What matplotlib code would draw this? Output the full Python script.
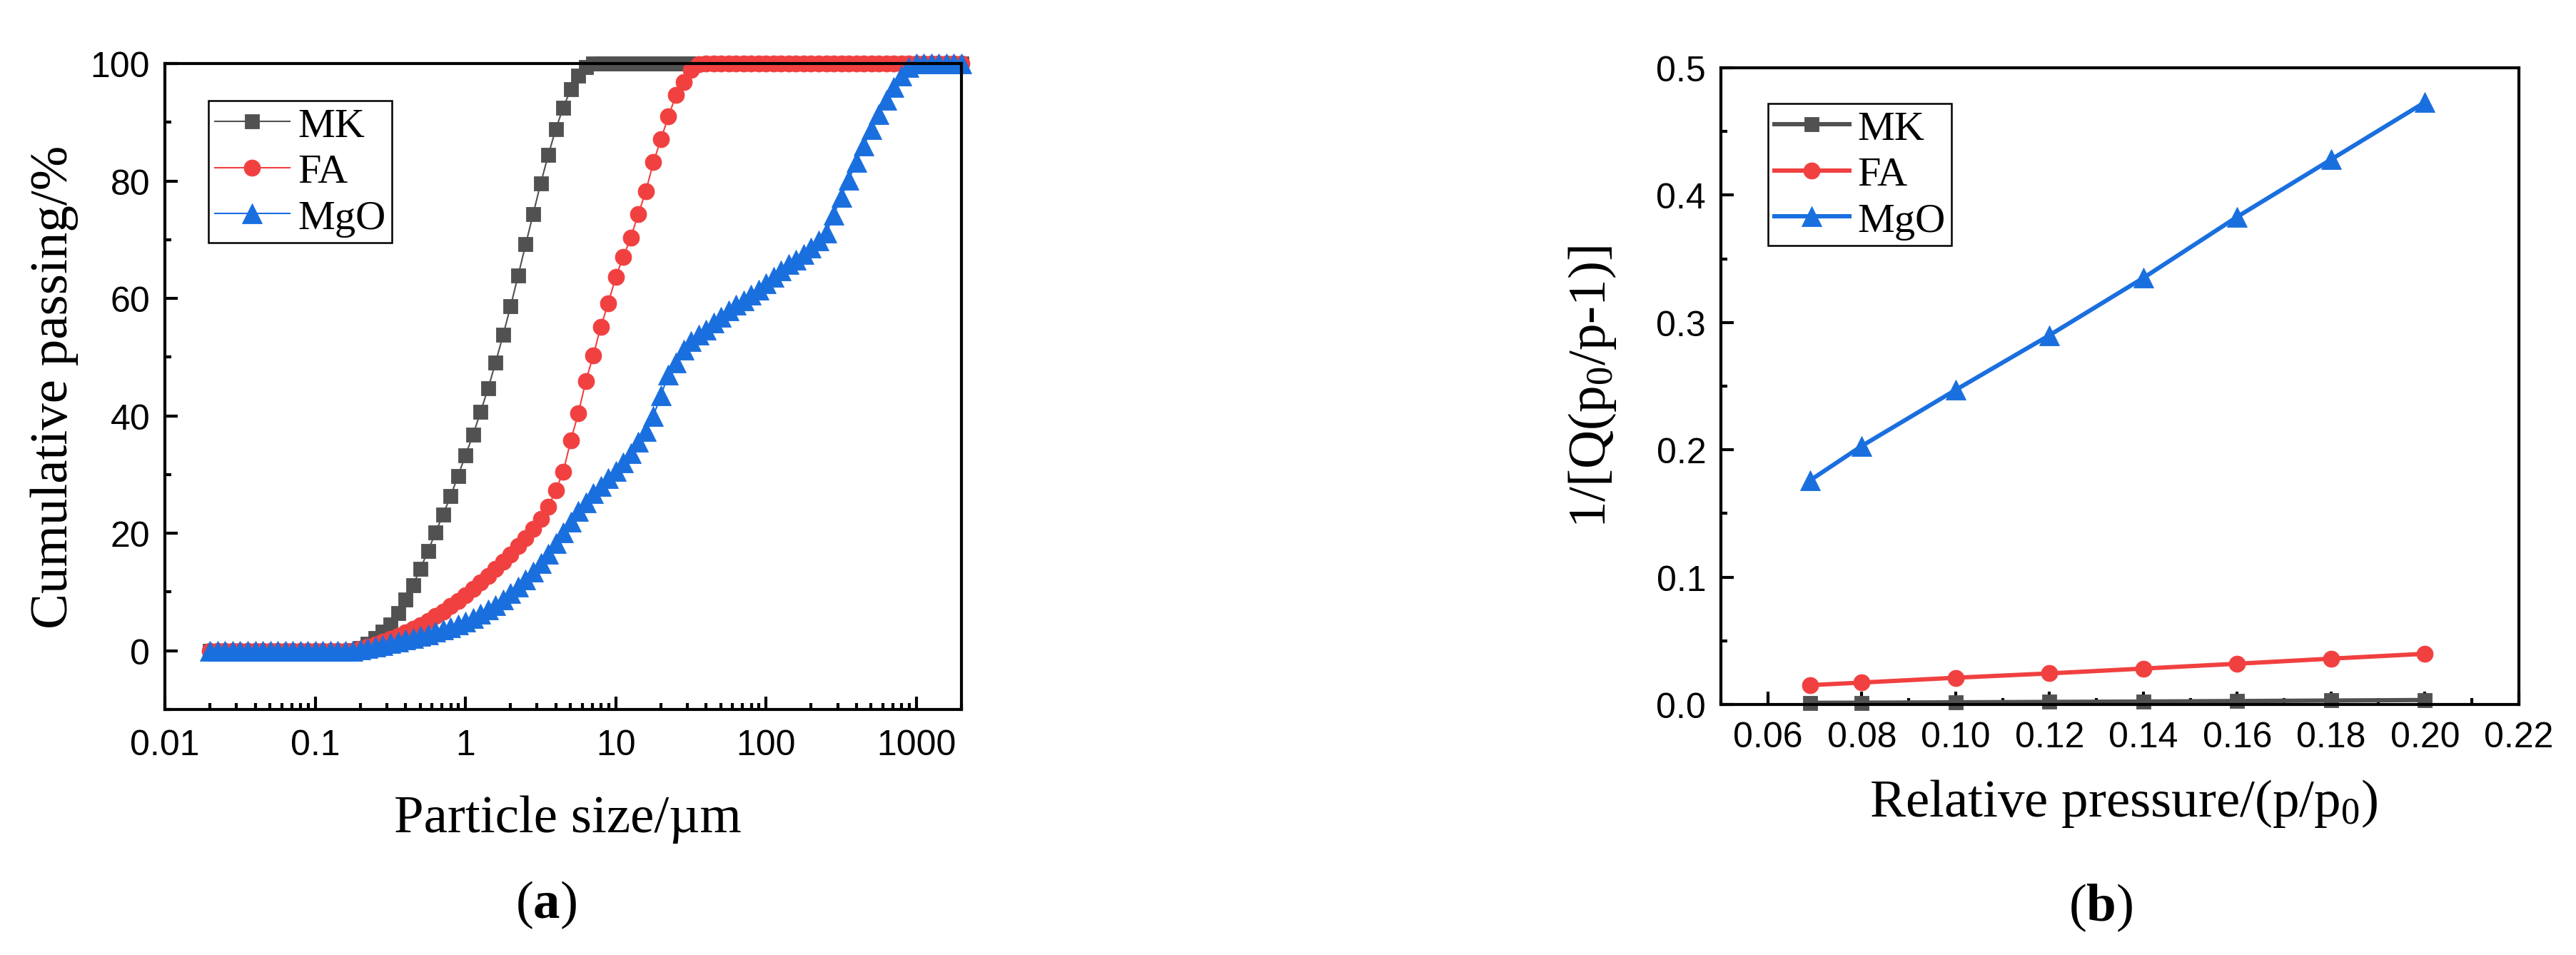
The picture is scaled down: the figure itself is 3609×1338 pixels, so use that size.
import matplotlib
matplotlib.use('Agg')
import matplotlib.pyplot as plt
from matplotlib.ticker import MultipleLocator, FormatStrFormatter, LogLocator, NullFormatter

# ---- data (a): particle size distribution, cumulative passing -------------
size_um = [
    0.02000, 0.02244, 0.02518, 0.02825, 0.03170, 0.03557, 0.03991, 0.04477, 0.05024, 0.05637,
    0.06325, 0.07096, 0.07962, 0.08934, 0.1002, 0.1125, 0.1262, 0.1416, 0.1589, 0.1783,
    0.2000, 0.2244, 0.2518, 0.2825, 0.3170, 0.3557, 0.3991, 0.4477, 0.5024, 0.5637,
    0.6325, 0.7096, 0.7962, 0.8934, 1.002, 1.125, 1.262, 1.416, 1.589, 1.783,
    2.000, 2.244, 2.518, 2.825, 3.170, 3.557, 3.991, 4.477, 5.024, 5.637,
    6.325, 7.096, 7.962, 8.934, 10.02, 11.25, 12.62, 14.16, 15.89, 17.83,
    20.00, 22.44, 25.18, 28.25, 31.70, 35.57, 39.91, 44.77, 50.24, 56.37,
    63.25, 70.96, 79.62, 89.34, 100.2, 112.5, 126.2, 141.6, 158.9, 178.3,
    200.0, 224.4, 251.8, 282.5, 317.0, 355.7, 399.1, 447.7, 502.4, 563.7,
    632.5, 709.6, 796.2, 893.4, 1002, 1125, 1262, 1416, 1589, 1783,
    2000,
]

passing_mk = [0.0] * 19 + [
    0.1,
    0.5, 1.2, 2.1, 3.2, 4.5, 6.4, 8.7, 11.2, 14.0, 17.0,
    20.1, 23.2, 26.3, 29.8, 33.3, 36.8, 40.7, 44.7, 49.1, 53.8,
    58.7, 63.9, 69.2, 74.4, 79.6, 84.4, 88.8, 92.5, 95.6, 97.9,
    99.4,
] + [100.0] * 50

passing_fa = [0.0] * 20 + [
    0.3, 0.7, 1.1, 1.5, 2.0, 2.5, 3.1, 3.7, 4.4, 5.1,
    5.9, 6.7, 7.6, 8.5, 9.5, 10.5, 11.6, 12.7, 13.9, 15.1,
    16.4, 17.8, 19.2, 20.7, 22.4, 24.5, 27.3, 30.5, 35.8, 40.4,
    45.9, 50.3, 55.2, 59.2, 63.7, 67.1, 70.4, 74.4, 78.3, 83.2,
    87.1, 91.0, 94.6, 96.9, 98.9, 99.9,
] + [100.0] * 35

passing_mgo = [0.0] * 20 + [
    0.2, 0.4, 0.7, 1.0, 1.3, 1.6, 1.9, 2.2, 2.5, 2.8,
    3.2, 3.6, 4.0, 4.5, 5.0, 5.6, 6.3, 7.0, 7.8, 8.7,
    9.8, 10.9, 12.1, 13.4, 14.9, 16.5, 18.3, 20.2, 22.0, 23.8,
    25.3, 26.8, 28.1, 29.4, 30.6, 32.0, 33.6, 35.6, 37.4, 40.0,
    43.5, 47.0, 49.1, 51.3, 52.7, 53.8, 54.7, 55.9, 56.9, 58.0,
    58.9, 59.7, 60.6, 61.5, 62.6, 63.7, 64.8, 65.8, 66.6, 67.5,
    68.6, 69.8, 71.2, 74.2, 77.3, 80.2, 83.2, 86.0, 88.8, 91.4,
    93.8, 96.0, 97.9, 99.4, 100.0,
] + [100.0] * 6

size_ticks = [0.01, 0.1, 1, 10, 100, 1000]
size_tick_labels = ['0.01', '0.1', '1', '10', '100', '1000']

# ---- data (b): BET plot ----------------------------------------------------
rel_pressure = [0.069, 0.08, 0.10, 0.12, 0.14, 0.16, 0.18, 0.20]
bet_mk = [0.0013, 0.0014, 0.0017, 0.0020, 0.0023, 0.0027, 0.0031, 0.0035]
bet_fa = [0.0152, 0.0172, 0.0210, 0.0244, 0.0282, 0.0320, 0.0360, 0.0398]
bet_mgo = [0.176, 0.203, 0.247, 0.290, 0.335, 0.383, 0.428, 0.473]

labels = ['MK', 'FA', 'MgO']

# Origin default palette
C_MK = '#515151'
C_FA = '#F14040'
C_MGO = '#1A6FDF'

SANS = 'Liberation Sans'
SERIF = 'Liberation Serif'

plt.rcParams['font.family'] = SANS
plt.rcParams['mathtext.fontset'] = 'custom'
plt.rcParams['mathtext.rm'] = SERIF
plt.rcParams['mathtext.it'] = SERIF + ':italic'
plt.rcParams['mathtext.bf'] = SERIF + ':bold'

W, H = 3609, 1339
fig = plt.figure(figsize=(W / 300, H / 300), dpi=300)

ax1 = fig.add_axes([231 / W, 1 - 995 / H, (1347 - 231) / W, (995 - 90) / H])
ax2 = fig.add_axes([2411 / W, 1 - 988 / H, (3529 - 2411) / W, (988 - 96) / H])


def style_axes(ax, xpad, ypad):
    for sp in ax.spines.values():
        sp.set_linewidth(1.0)
    ax.tick_params(which='both', direction='in', top=False, right=False,
                   width=1.0, labelsize=12)
    ax.tick_params(which='major', length=4.3)
    ax.tick_params(which='minor', length=2.2)
    ax.tick_params(axis='x', pad=xpad)
    ax.tick_params(axis='y', pad=ypad)


def add_legend(ax, x, y):
    leg = ax.legend(loc='upper left', bbox_to_anchor=(x, y), borderaxespad=0,
                    prop={'family': SERIF, 'size': 14}, frameon=True,
                    fancybox=False, edgecolor='black', framealpha=1,
                    handlelength=1.8, handletextpad=0.2, borderpad=0.15,
                    labelspacing=0.2, numpoints=1)
    leg.get_frame().set_linewidth(0.6)


# ---- (a) cumulative passing ------------------------------------------------
lw_a = 0.5
ax1.plot(size_um, passing_mk, color=C_MK, lw=lw_a, marker='s', ms=4.8,
         mew=0.2, mec=C_MK, label=labels[0], clip_on=False)
ax1.plot(size_um, passing_fa, color=C_FA, lw=lw_a, marker='o', ms=5.5,
         mew=0.2, mec=C_FA, label=labels[1], clip_on=False)
ax1.plot(size_um, passing_mgo, color=C_MGO, lw=lw_a, marker='^', ms=6.6,
         mew=0.2, mec=C_MGO, label=labels[2], clip_on=False)

ax1.set_xscale('log')
ax1.set_xlim(0.01, 2000)
ax1.set_ylim(-10, 100)
ax1.set_xticks(size_ticks)
ax1.set_xticklabels(size_tick_labels)
ax1.xaxis.set_minor_locator(LogLocator(base=10, subs=range(2, 10), numticks=20))
ax1.xaxis.set_minor_formatter(NullFormatter())
ax1.yaxis.set_major_locator(MultipleLocator(20))
ax1.yaxis.set_minor_locator(MultipleLocator(10))
style_axes(ax1, xpad=6.5, ypad=5)

ax1.set_xlabel('Particle size/\u00b5m', family=SERIF, fontsize=18)
ax1.set_ylabel('Cumulative passing/%', family=SERIF, fontsize=18)
ax1.xaxis.set_label_coords(0.506, -0.132)
ax1.yaxis.set_label_coords(-0.108, 0.5)
add_legend(ax1, 0.0547, 0.9425)

# ---- (b) BET -----------------------------------------------------------------
lw_b = 1.45
ax2.plot(rel_pressure, bet_mk, color=C_MK, lw=lw_b, marker='s', ms=4.8,
         mew=0.2, mec=C_MK, label=labels[0], clip_on=False)
ax2.plot(rel_pressure, bet_fa, color=C_FA, lw=lw_b, marker='o', ms=5.5,
         mew=0.2, mec=C_FA, label=labels[1], clip_on=False)
ax2.plot(rel_pressure, bet_mgo, color=C_MGO, lw=lw_b, marker='^', ms=6.6,
         mew=0.2, mec=C_MGO, label=labels[2], clip_on=False)

ax2.set_xlim(0.05, 0.22)
ax2.set_ylim(0.0, 0.5)
ax2.xaxis.set_major_locator(MultipleLocator(0.02))
ax2.xaxis.set_minor_locator(MultipleLocator(0.01))
ax2.xaxis.set_major_formatter(FormatStrFormatter('%.2f'))
ax2.yaxis.set_major_locator(MultipleLocator(0.1))
ax2.yaxis.set_minor_locator(MultipleLocator(0.05))
ax2.yaxis.set_major_formatter(FormatStrFormatter('%.1f'))
style_axes(ax2, xpad=5.5, ypad=5)

ax2.set_xlabel(r'Relative pressure/(p/p$_\mathrm{0}$)', family=SERIF, fontsize=18)
ax2.set_ylabel(r'1/[Q(p$_\mathrm{0}$/p-1)]', family=SERIF, fontsize=18)
ax2.xaxis.set_label_coords(0.505, -0.114)
ax2.yaxis.set_label_coords(-0.129, 0.5)
add_legend(ax2, 0.059, 0.944)

# ---- panel captions --------------------------------------------------------
fig.text(765 / W, 1 - 1268 / H, r'($\mathbf{a}$)', family=SERIF, fontsize=18,
         ha='center', va='center')
fig.text(2943 / W, 1 - 1272 / H, r'($\mathbf{b}$)', family=SERIF, fontsize=18,
         ha='center', va='center')

fig.savefig('out.png', dpi=300)
plt.close(fig)
